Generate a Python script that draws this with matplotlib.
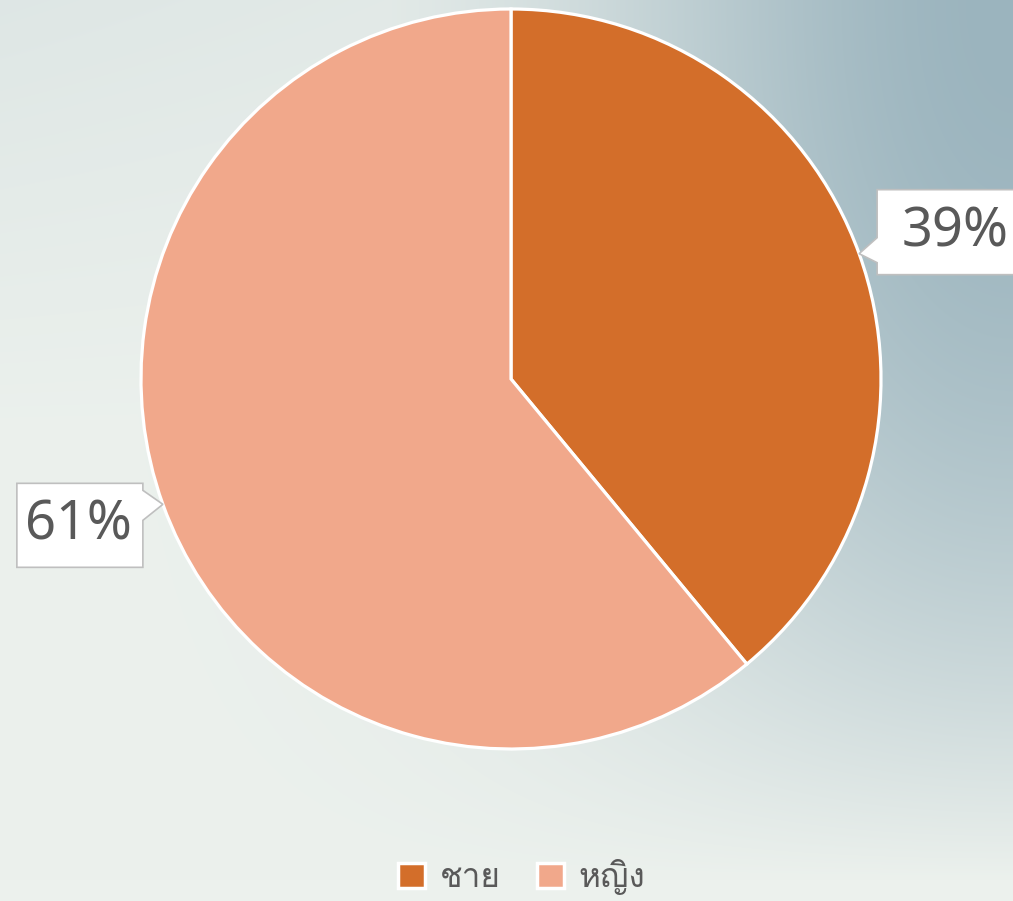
import numpy as np
import matplotlib
matplotlib.use('Agg')
import matplotlib.pyplot as plt
from matplotlib.patches import Polygon, Patch
from matplotlib import font_manager
from matplotlib.ft2font import FT2Font

labels = ['ชาย', 'หญิง']
shares = [39, 61]
colors = ['#D36E2A', '#F1A88B']

# find a font that has Thai glyphs
thai_font = None
for f in font_manager.fontManager.ttflist:
    try:
        if ord('ช') in FT2Font(f.fname).get_charmap():
            thai_font = f.name
            break
    except Exception:
        pass
fams = ([thai_font] if thai_font else []) + ['Noto Sans', 'DejaVu Sans']

W, H = 1013, 901
cx, cy, R = 511, 379, 370   # pie centre / radius in pixels

fig = plt.figure(figsize=(W / 100, H / 100), dpi=100)

# background gradient
bg = fig.add_axes([0, 0, 1, 1])
yy, xx = np.mgrid[0:H, 0:W]
dx = (W - xx) / 430.0
w = np.exp(-dx ** 2) * np.clip(1 - (yy / 880.0) ** 2, 0, 1)
w = np.maximum(w, 0.17 * np.clip(1 - yy / 450.0, 0, 1) * np.clip(1 - xx / 1400.0, 0.6, 1))
light = np.array([0xec, 0xf1, 0xed]) / 255
dark = np.array([0x9b, 0xb4, 0xbe]) / 255
img = light[None, None, :] * (1 - w[..., None]) + dark[None, None, :] * w[..., None]
bg.imshow(img, extent=[0, W, H, 0], aspect='auto')
bg.axis('off')

ax = fig.add_axes([0, 0, 1, 1])
ax.set_aspect('equal')
ax.axis('off')
ax.patch.set_alpha(0)

wedges, _ = ax.pie(shares, colors=colors, startangle=90, counterclock=False,
                   radius=1, center=(0, 0),
                   wedgeprops=dict(edgecolor='white', linewidth=2.3))
ax.set_xlim(-cx / R, (W - cx) / R)
ax.set_ylim(-(H - cy) / R, cy / R)

px = 1.0 / R
def callout(tip, side, box_w, up, down, base_up, base_down, gap, text, tx):
    x0, y0 = tip
    if side == 'right':
        e = x0 + gap
        far = e + box_w
    else:
        e = x0 - gap
        far = e - box_w
    pts = [(e, y0 + base_up), (e, y0 + up), (far, y0 + up), (far, y0 - down),
           (e, y0 - down), (e, y0 - base_down), (x0, y0)]
    ax.add_patch(Polygon(pts, closed=True, facecolor='white', edgecolor='#BFBFBF',
                         linewidth=1.2, zorder=5))
    ax.text(e + tx if side == 'right' else e - tx, y0 + (up - down) / 2, text,
            ha='center', va='center', fontsize=39, color='#595959',
            family=['Noto Sans', 'DejaVu Sans'], zorder=6)

for wdg, s in zip(wedges, shares):
    ang = np.deg2rad((wdg.theta1 + wdg.theta2) / 2)
    tip = (np.cos(ang), np.sin(ang))
    if tip[0] > 0:
        callout(tip, 'right', 160 * px, 64 * px, 21 * px, 16 * px, 9 * px, 18 * px,
                f'{s}%', 78 * px)
    else:
        callout(tip, 'left', 126 * px, 21 * px, 63 * px, 14 * px, 16 * px, 20 * px,
                f'{s}%', 64 * px)

handles = [Patch(facecolor=c, edgecolor='white', linewidth=2.5) for c in colors]
leg = fig.legend(handles, labels, loc='center', bbox_to_anchor=(0.515, 1 - 877 / H),
                 ncol=2, frameon=False, handlelength=0.8, handleheight=0.8,
                 handletextpad=0.45, columnspacing=1.1,
                 prop={'family': fams, 'size': 24})
for t in leg.get_texts():
    t.set_color('#595959')

fig.savefig('out.png', dpi=100)
